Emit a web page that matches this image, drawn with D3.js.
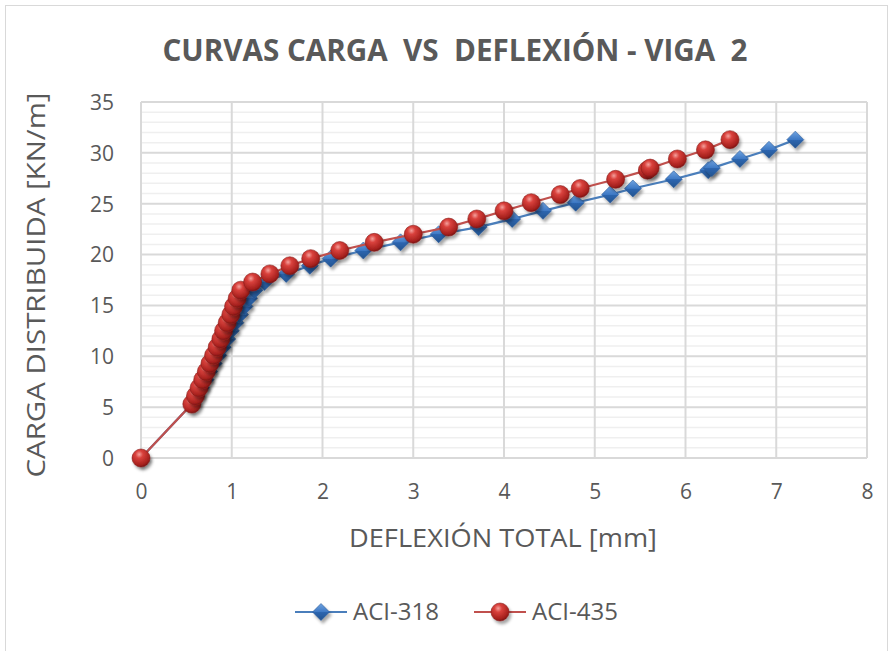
<!DOCTYPE html>
<html>
<head>
<meta charset="utf-8">
<script src="https://cdn.jsdelivr.net/npm/d3@7"></script>
<style>
  body { margin: 0; background: #fff; }
  text { font-family: "Open Sans", "Liberation Sans", sans-serif; fill: #595959; }
</style>
</head>
<body>
<div id="chart"></div>
<script>
var W = 890, H = 651;
var margin = { top: 102, right: 23, bottom: 193, left: 141 };
var width = W - margin.left - margin.right;
var height = H - margin.top - margin.bottom;

// load steps shared by both curves [kN/m]
var cargas = [0, 5.3, 6.1, 6.9, 7.7, 8.5, 9.3, 10.1, 10.9, 11.7, 12.5, 13.3, 14.1, 14.9, 15.7, 16.5, 17.3,
  18.1, 18.9, 19.6, 20.4, 21.2, 22.0, 22.7, 23.5, 24.3, 25.1, 25.9, 26.5, 27.4, 28.3, 28.5, 29.4, 30.3, 31.3];
// deflections [mm]
var defACI318 = [0, 0.56, 0.61, 0.66, 0.71, 0.75, 0.80, 0.85, 0.90, 0.95, 0.99, 1.04, 1.09, 1.14, 1.19, 1.25, 1.36,
  1.60, 1.86, 2.09, 2.45, 2.86, 3.28, 3.72, 4.09, 4.43, 4.79, 5.17, 5.42, 5.87, 6.25, 6.29, 6.60, 6.92, 7.21];
var defACI435 = [0, 0.56, 0.60, 0.64, 0.68, 0.72, 0.76, 0.80, 0.84, 0.88, 0.91, 0.95, 0.99, 1.02, 1.06, 1.10, 1.23,
  1.42, 1.64, 1.87, 2.19, 2.57, 3.00, 3.39, 3.70, 4.00, 4.30, 4.62, 4.84, 5.23, 5.58, 5.61, 5.91, 6.22, 6.49];

var xTicks = [0, 1, 2, 3, 4, 5, 6, 7, 8];
var yTicks = [0, 5, 10, 15, 20, 25, 30, 35];
var seriesNames = ['ACI-318', 'ACI-435'];

var svg = d3.select('#chart').append('svg')
  .attr('width', W).attr('height', H);

var defs = svg.append('defs');
var shadow = defs.append('filter').attr('id', 'shadow')
  .attr('x', '-50%').attr('y', '-50%').attr('width', '200%').attr('height', '200%');
shadow.append('feDropShadow').attr('dx', 2).attr('dy', 3).attr('stdDeviation', 1.6)
  .attr('flood-color', '#000').attr('flood-opacity', 0.35);

var rg = defs.append('radialGradient').attr('id', 'sphere')
  .attr('cx', '40%').attr('cy', '30%').attr('r', '70%');
rg.append('stop').attr('offset', '0%').attr('stop-color', '#f4a09c');
rg.append('stop').attr('offset', '30%').attr('stop-color', '#d9413c');
rg.append('stop').attr('offset', '85%').attr('stop-color', '#a5201d');
rg.append('stop').attr('offset', '100%').attr('stop-color', '#7d1614');

var lg = defs.append('linearGradient').attr('id', 'diamond')
  .attr('x1', 0).attr('y1', 0).attr('x2', 0).attr('y2', 1);
lg.append('stop').attr('offset', '0%').attr('stop-color', '#6fa3e0');
lg.append('stop').attr('offset', '50%').attr('stop-color', '#3d78c4');
lg.append('stop').attr('offset', '51%').attr('stop-color', '#2d66b0');
lg.append('stop').attr('offset', '100%').attr('stop-color', '#23538f');

// outer chart border
svg.append('rect')
  .attr('x', 5.5).attr('y', 5.5).attr('width', W - 8).attr('height', H - 4)
  .attr('fill', 'none').attr('stroke', '#d9d9d9').attr('stroke-width', 1);

svg.append('text')
  .attr('x', 455).attr('y', 61)
  .attr('text-anchor', 'middle')
  .attr('font-size', 30).attr('font-weight', 'bold')
  .attr('textLength', 585).attr('lengthAdjust', 'spacingAndGlyphs')
  .style('white-space', 'pre')
  .text('CURVAS CARGA  VS  DEFLEXIÓN - VIGA  2');

var g = svg.append('g').attr('transform', `translate(${margin.left}, ${margin.top})`);

var x = d3.scaleLinear().domain([0, 8]).range([0, width]);
var y = d3.scaleLinear().domain([0, 35]).range([height, 0]);

// minor horizontal gridlines every 1 kN/m
g.append('g').selectAll('line')
  .data(d3.range(0, 36).filter(v => v % 5 !== 0))
  .enter().append('line')
    .attr('x1', 0).attr('x2', width)
    .attr('y1', d => y(d)).attr('y2', d => y(d))
    .attr('stroke', '#efefef').attr('stroke-width', 1.5);

// major gridlines
g.append('g').selectAll('line')
  .data(yTicks).enter().append('line')
    .attr('x1', 0).attr('x2', width)
    .attr('y1', d => y(d)).attr('y2', d => y(d))
    .attr('stroke', '#d9d9d9').attr('stroke-width', 2);
g.append('g').selectAll('line')
  .data(xTicks).enter().append('line')
    .attr('y1', 0).attr('y2', height)
    .attr('x1', d => x(d)).attr('x2', d => x(d))
    .attr('stroke', '#d9d9d9').attr('stroke-width', 2);

// axes (labels only)
var xAxis = g.append('g').attr('transform', `translate(0, ${height})`)
  .call(d3.axisBottom(x).tickValues(xTicks).tickSize(0).tickPadding(26));
var yAxis = g.append('g')
  .call(d3.axisLeft(y).tickValues(yTicks).tickSize(0).tickPadding(27));
[xAxis, yAxis].forEach(a => {
  a.select('.domain').remove();
  a.selectAll('text').attr('font-size', 21).attr('fill', '#595959')
    .style('font-family', '"Open Sans", sans-serif');
});
yAxis.selectAll('text').attr('dy', '0.35em');

svg.append('text')
  .attr('x', 503).attr('y', 547).attr('text-anchor', 'middle')
  .attr('font-size', 25).attr('textLength', 308).attr('lengthAdjust', 'spacingAndGlyphs')
  .text('DEFLEXIÓN TOTAL [mm]');
svg.append('text')
  .attr('transform', 'translate(45, 285) rotate(-90)')
  .attr('text-anchor', 'middle')
  .attr('font-size', 25).attr('textLength', 385).attr('lengthAdjust', 'spacingAndGlyphs')
  .text('CARGA DISTRIBUIDA [KN/m]');

var line = d3.line().x(d => x(d[0])).y(d => y(d[1]));
var blue = defACI318.map((v, i) => [v, cargas[i]]);
var red = defACI435.map((v, i) => [v, cargas[i]]);

function diamond (sel, s) {
  sel.append('path')
    .attr('d', `M0,${-s}L${s},0L0,${s}L${-s},0Z`)
    .attr('fill', 'url(#diamond)')
    .attr('stroke', '#2a5a98').attr('stroke-width', 0.6)
    .attr('filter', 'url(#shadow)');
}
function sphere (sel, r) {
  sel.append('circle').attr('r', r)
    .attr('fill', 'url(#sphere)')
    .attr('stroke', '#8a1c1a').attr('stroke-width', 0.6)
    .attr('filter', 'url(#shadow)');
}

g.append('path').datum(blue).attr('d', line)
  .attr('fill', 'none').attr('stroke', '#4a7ebb').attr('stroke-width', 2.2);
g.append('g').selectAll('g').data(blue).enter().append('g')
  .attr('transform', d => `translate(${x(d[0])}, ${y(d[1])})`)
  .call(diamond, 8.5);

g.append('path').datum(red).attr('d', line)
  .attr('fill', 'none').attr('stroke', '#c0504d').attr('stroke-width', 2.2);
g.append('g').selectAll('g').data(red).enter().append('g')
  .attr('transform', d => `translate(${x(d[0])}, ${y(d[1])})`)
  .call(sphere, 9);

// legend
var legend = svg.append('g').attr('transform', 'translate(0, 612)');
var items = legend.selectAll('g').data(seriesNames).enter().append('g')
  .attr('transform', (d, i) => `translate(${i === 0 ? 295 : 474}, 0)`);
items.append('line').attr('x1', 0).attr('x2', 52).attr('y1', 0).attr('y2', 0)
  .attr('stroke', (d, i) => i === 0 ? '#4a7ebb' : '#c0504d').attr('stroke-width', 2.2);
items.each(function (d, i) {
  var m = d3.select(this).append('g').attr('transform', 'translate(26, 0)');
  if (i === 0) diamond(m, 8.5); else sphere(m, 9);
});
items.append('text').attr('x', 58).attr('y', 0).attr('dy', '0.35em')
  .attr('font-size', 24).text(d => d);
</script>
</body>
</html>
